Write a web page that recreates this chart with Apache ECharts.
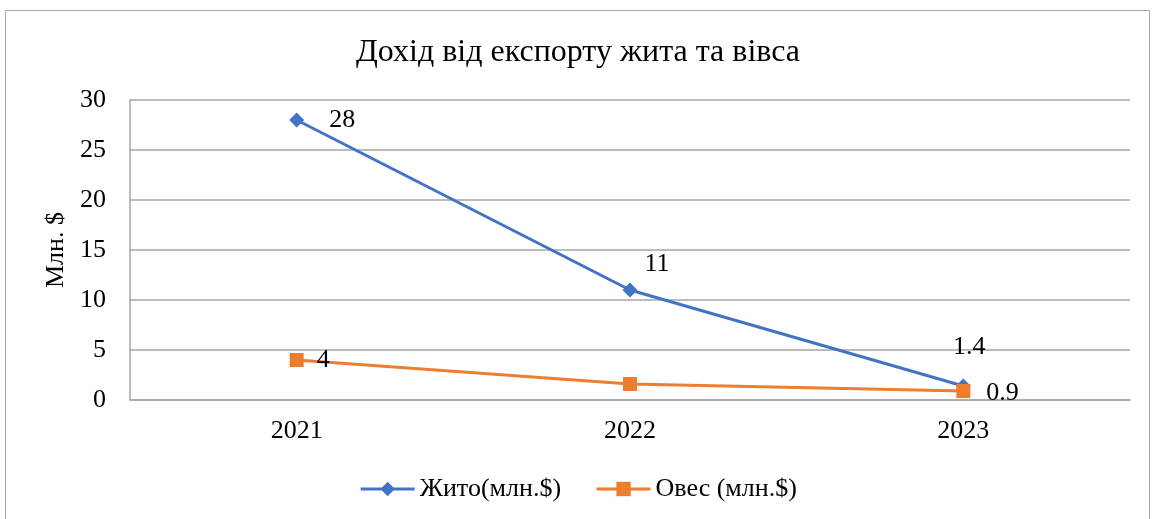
<!DOCTYPE html>
<html>
<head>
<meta charset="utf-8">
<script src="https://cdn.jsdelivr.net/npm/echarts@6/dist/echarts.min.js"></script>
<style>
  html, body { margin: 0; padding: 0; background: #fff; }
  #Chart1 { width: 1156px; height: 519px; }
</style>
</head>
<body>
<div id="Chart1"></div>
<script>
const years = ["2021", "2022", "2023"];
const ryeValues = [28, 11, 1.4];
const oatValues = [4, 1.6, 0.9];
const yTicks = [0, 5, 10, 15, 20, 25, 30];

const myChart = echarts.init(document.getElementById("Chart1"));
const font = "'Liberation Serif', 'Times New Roman', serif";

// label placement per point, like in the original
const ryeLabels = [
  { position: "right", offset: [20, 0] },
  { position: "top", offset: [27, 0] },
  { position: "top", offset: [6, -13] },
];
const oatLabels = [
  { position: "right", offset: [8, 0] },
  { show: false },
  { position: "right", offset: [11, 2] },
];

const option = {
  backgroundColor: "#fff",
  textStyle: { fontFamily: font },
  graphic: [{
    type: "rect",
    shape: { x: 5.5, y: 10.5, width: 1144, height: 520 },
    style: { fill: "none", stroke: "#a6a6a6", lineWidth: 1 },
    silent: true,
  }],
  title: {
    text: "Дохід від експорту жита та вівса",
    left: "center",
    top: 32,
    textStyle: { fontFamily: font, fontSize: 32, fontWeight: "normal", color: "#000" },
  },
  legend: {
    bottom: 12,
    left: "center",
    itemWidth: 54,
    itemHeight: 18,
    itemGap: 34,
    lineStyle: { width: 3 },
    textStyle: { fontFamily: font, fontSize: 26, color: "#000" },
    data: ["Жито(млн.$)", "Овес (млн.$)"],
  },
  grid: { left: 130, right: 26, top: 100, bottom: 119 },
  xAxis: {
    type: "category",
    data: years,
    boundaryGap: true,
    axisTick: { show: false },
    axisLine: { lineStyle: { color: "#a6a6a6", width: 1.5 } },
    axisLabel: { fontFamily: font, fontSize: 26, color: "#000", margin: 18 },
  },
  yAxis: {
    type: "value",
    min: yTicks[0],
    max: yTicks[yTicks.length - 1],
    interval: 5,
    name: "Млн. $",
    nameLocation: "middle",
    nameGap: 61,
    nameRotate: 90,
    nameTextStyle: { fontFamily: font, fontSize: 26, color: "#000" },
    axisLine: { show: true, lineStyle: { color: "#a6a6a6", width: 1.5 } },
    axisTick: { show: false },
    axisLabel: { fontFamily: font, fontSize: 26, color: "#000", margin: 24 },
    splitLine: { lineStyle: { color: "#a6a6a6", width: 1.5 } },
  },
  series: [
    {
      name: "Жито(млн.$)",
      type: "line",
      data: ryeValues.map((v, i) => ({ value: v, label: ryeLabels[i] })),
      symbol: "diamond",
      symbolSize: 15,
      color: "#4472c4",
      lineStyle: { width: 3, color: "#4472c4" },
      label: { show: true, fontFamily: font, fontSize: 26, color: "#000" },
    },
    {
      name: "Овес (млн.$)",
      type: "line",
      data: oatValues.map((v, i) => ({ value: v, label: oatLabels[i] })),
      symbol: "rect",
      symbolSize: 14,
      color: "#ed7d31",
      lineStyle: { width: 3, color: "#ed7d31" },
      label: { show: true, fontFamily: font, fontSize: 26, color: "#000" },
    },
  ],
};

myChart.setOption(option);
</script>
</body>
</html>
